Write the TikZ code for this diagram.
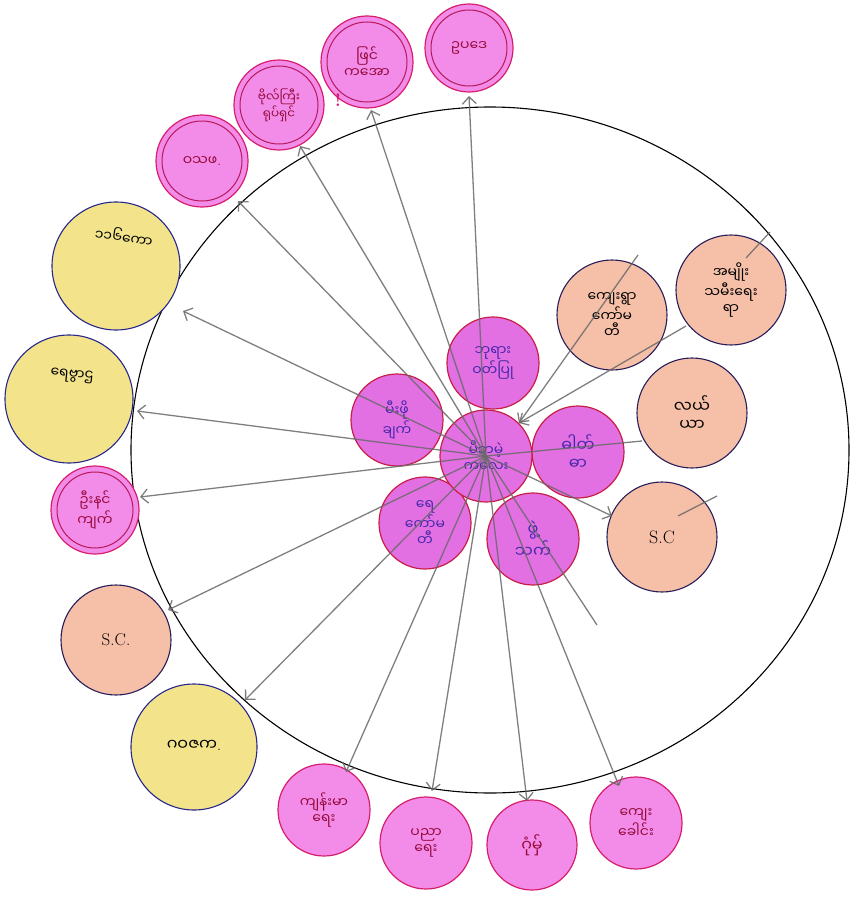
\documentclass[tikz,border=0pt]{standalone}
\usepackage{fontspec}
\newfontfamily\my[Script=Myanmar]{Noto Sans Myanmar UI}
\usetikzlibrary{arrows.meta}
\definecolor{pinkfill}{RGB}{242,140,232}
\definecolor{pinkedge}{RGB}{215,30,110}
\definecolor{pinktext}{RGB}{150,10,60}
\definecolor{innerfill}{RGB}{226,112,226}
\definecolor{inneredge}{RGB}{200,30,70}
\definecolor{innertext}{RGB}{70,40,170}
\definecolor{salfill}{RGB}{246,192,168}
\definecolor{saledge}{RGB}{40,30,90}
\definecolor{yelfill}{RGB}{243,228,140}
\definecolor{yeledge}{RGB}{40,40,140}
\definecolor{arrgray}{RGB}{105,105,105}
\tikzset{
  base/.style={circle, inner sep=0pt, align=center, font=\my\fontsize{14}{16}\selectfont},
  pinkn/.style={base, draw=pinkedge, line width=1.2pt, fill=pinkfill, text=pinktext},
  innern/.style={base, draw=inneredge, line width=1.2pt, fill=innerfill, text=innertext, minimum size=92pt},
  saln/.style={base, draw=saledge, line width=1.1pt, fill=salfill, text=black, minimum size=110pt},
  yelc/.style={draw=yeledge, line width=1.1pt, fill=yelfill},
  yelt/.style={font=\my\fontsize{14}{16}\selectfont, text=black},
  ring/.style={draw=pinkedge!85!black, line width=1pt},
  arr/.style={draw=arrgray, line width=1.3pt, -{Straight Barb[length=7pt,width=14pt]}},
  ln/.style={draw=arrgray, line width=1.3pt}
}
\newcommand{\dt}{{\rmfamily .}}
\begin{document}
\begin{tikzpicture}[x=1pt,y=-1pt]
\useasboundingbox (0,0) rectangle (851,899);
% big circle
\draw[line width=1.1pt] (490,450) ellipse (359 and 343);

% top pink
\node[pinkn, minimum size=88pt] (p1) at (469,48) {ဥပဒေ};
\draw[ring] (p1.center) circle (38);
\node[pinkn, minimum size=92pt] (p2) at (367,62) {ဖြင်\\ကအော};
\draw[ring] (p2.center) circle (40);
\node[pinkn, minimum size=90pt, font=\my\fontsize{12}{14}\selectfont] (p3) at (279,105) {ဗိုလ်ကြီး\\ရုပ်ရှင်};
\draw[ring] (p3.center) circle (39);
\node[pinkn, minimum size=92pt] (p4) at (202,161) {ဝသဖ\dt};
\draw[ring] (p4.center) circle (40);
\node[text=pinkedge, font=\bfseries\fontsize{18}{18}\selectfont] (ex) at (338,100) {!};

% left
\coordinate (y1) at (116,266);
\draw[yelc] (y1) circle (64);
\node[yelt, rotate=-8] (y1t) at (124,236) {၁၁၆ကော};
\coordinate (y2) at (69,399);
\draw[yelc] (y2) circle (64);
\node[yelt, rotate=-6] (y2t) at (72,376) {ရေဗွာဌ};
\node[pinkn, minimum size=88pt] (p5) at (95,510) {ဦးနင်\\ကျက်};
\draw[ring] (p5.center) circle (38);
\node[saln, font=\fontsize{17}{17}\selectfont] (s1) at (116,640) {S.C.};
\coordinate (y3) at (194,747);
\draw[yelc] (y3) circle (63);
\node[yelt, font=\my\fontsize{16}{18}\selectfont] (y3t) at (194,745) {ဂဝဇက\dt};

% bottom pink
\node[pinkn, minimum size=92pt] (b1) at (324,810) {ကျန်းမာ\\ရေး};
\node[pinkn, minimum size=92pt] (b2) at (426,843) {ပညာ\\ရေး};
\node[pinkn, minimum size=90pt, font=\my\fontsize{16}{18}\selectfont] (b3) at (532,845) {ဂုံမှ်};
\node[pinkn, minimum size=92pt] (b4) at (636,823) {ကျေး\\ခေါင်း};

% right salmon
\node[saln] (s2) at (612,315) {ကျေးရွာ\\ကော်မ\\တီ};
\node[saln] (s3) at (731,290) {အမျိုး\\သမီးရေး\\ရာ};
\node[saln, font=\my\fontsize{16}{18}\selectfont] (s4) at (692,413) {လယ်\\ယာ};
\node[saln, font=\fontsize{18}{18}\selectfont] (s5) at (662,537) {S.C};

% inner ring
\node[innern] (i1) at (493,363) {ဘုရား\\ဝတ်ပြု};
\node[innern] (i2) at (397,420) {မီးဖို\\ချက်};
\node[innern, font=\my\fontsize{16}{18}\selectfont] (i3) at (578,452) {ဓါတ်\\ဓာ};
\node[innern] (i4) at (425,523) {ရေ\\ကော်မ\\တီ};
\node[innern, font=\my\fontsize{16}{18}\selectfont] (i5) at (533,539) {ဖွဲ့\\သက်};
\node[innern] (c) at (486,456) {မိဘမဲ့\\ကလေး};

% arrow ends
\coordinate (e1) at (469,96);
\coordinate (e2) at (371,110);
\coordinate (e3) at (300,146);
\coordinate (e4) at (238,201);
\coordinate (e5) at (183,311);
\coordinate (e6) at (137,411);
\coordinate (e7) at (140,497);
\coordinate (e8) at (168,610);
\coordinate (e9) at (245,700);
\coordinate (e10) at (346,772);
\coordinate (e11) at (432,791);
\coordinate (e12) at (527,801);
\coordinate (e13) at (619,786);
\coordinate (r1) at (638,255);
\coordinate (r2) at (686,326);
\coordinate (r3) at (642,441);
\coordinate (r4) at (612,516);
\coordinate (r5) at (597,625);
\coordinate (r6a) at (770,232);
\coordinate (r6b) at (746,258);
\coordinate (r7a) at (678,516);
\coordinate (r7b) at (717,496);

\begin{scope}[opacity=0.85]
\foreach \e in {e1,e2,e3,e4,e5,e6,e7,e8,e9,e10,e11,e12,e13}
  \draw[arr] (c.center) -- (\e);
\draw[arr] (r1) -- (c.north east);
\draw[arr] (r2) -- (c.north east);
\draw[ln] (c.center) -- (r3);
\draw[arr] (c.center) -- (r4);
\draw[ln] (c.center) -- (r5);
\draw[ln] (r6a) -- (r6b);
\draw[ln] (r7a) -- (r7b);
\end{scope}
\end{tikzpicture}
\end{document}
